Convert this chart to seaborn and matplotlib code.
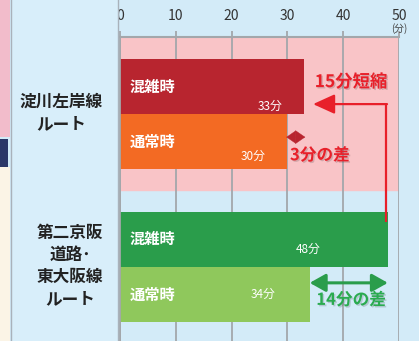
import numpy as np
import pandas as pd
import matplotlib
matplotlib.use("Agg")
import matplotlib.pyplot as plt
import matplotlib.patheffects as pe
import seaborn as sns
from matplotlib.patches import Rectangle

# ---- data ----
routes = ["淀川左岸線\nルート", "第二京阪\n道路･\n東大阪線\nルート"]
conditions = ["混雑時", "通常時"]
minutes_route1 = [33, 30]
minutes_route2 = [48, 34]
x_ticks = [0, 10, 20, 30, 40, 50]
unit_label = "(分)"
note_short = "15分短縮"
note_diff1 = "3分の差"
note_diff2 = "14分の差"

# ---- layout ----
W, H = 419, 341
group_top = [0.9, 3.68]          # y position of first bar of each group (bar units)
bar_colors = ["#b8252f", "#f36a23", "#2a9d4b", "#8fc85c"]
val_dx = [6.1, 6.2, 14.3, 8.4]
val_dy = [0.36, 0.27, 0.18, 0.0]

sns.set_theme(style="white")
plt.rcParams["font.family"] = ["Noto Sans CJK JP", "DejaVu Sans"]

fig = plt.figure(figsize=(W / 100, H / 100), dpi=100)
fig.patch.set_facecolor("#d3ebf8")

# left decorative strip and label panel
fig.patches.append(Rectangle((0, 1 - 137 / H), 10 / W, 137 / H, transform=fig.transFigure,
                             facecolor="#f2bccb", edgecolor="none", zorder=0))
fig.patches.append(Rectangle((0, 1 - 167 / H), 8 / W, 28 / H, transform=fig.transFigure,
                             facecolor="#2b3768", edgecolor="none", zorder=0))
fig.patches.append(Rectangle((0, 0), 10 / W, 1 - 167 / H, transform=fig.transFigure,
                             facecolor="#fbf4e6", edgecolor="none", zorder=0))
fig.patches.append(Rectangle((11 / W, -0.01), 107 / W, 1.02, transform=fig.transFigure,
                             facecolor="#d8eefa", edgecolor="#a9b2bb", lw=1.0, zorder=0))

ax = fig.add_axes([120 / W, 0, 279 / W, 304 / H])
ax.set_facecolor("none")

rows = []
for g, vals in enumerate([minutes_route1, minutes_route2]):
    for i, v in enumerate(vals):
        rows.append({"route": routes[g], "cond": conditions[i], "min": v,
                     "pos": group_top[g] + i, "key": f"{g}-{i}"})
df = pd.DataFrame(rows)

bottom_lim = 304 / 55
pink_bottom = (190 - 37) / 55
ax.axhspan(0, pink_bottom, color="#f9c4c7", zorder=0)

for xv in x_ticks:
    ax.axvline(xv, color="#a3a7ab", lw=1.3, zorder=1)

sns.barplot(data=df, x="min", y="pos", hue="key", palette=bar_colors, orient="y",
            native_scale=True, width=1.0, dodge=False, legend=False, ax=ax,
            saturation=1, edgecolor="none", linewidth=0, zorder=2)

ax.set_xlim(0, 50)
ax.set_ylim(bottom_lim, 0)

# axis styling
ax.xaxis.set_ticks_position("top")
ax.xaxis.set_label_position("top")
ax.set_xticks(x_ticks)
ax.set_xticklabels([str(t) for t in x_ticks], fontsize=10, color="#333333")
ax.tick_params(axis="x", length=4, width=1.3, color="#a3a7ab", pad=6)
ax.set_yticks([pink_bottom])
ax.set_yticklabels([""])
ax.tick_params(axis="y", length=4, width=1.0, color="#a3a7ab")
ax.set_xlabel("")
ax.set_ylabel("")
for s in ["right", "bottom"]:
    ax.spines[s].set_visible(False)
ax.spines["top"].set_color("#a3a7ab")
ax.spines["top"].set_linewidth(1.5)
ax.spines["left"].set_color("#a3a7ab")
ax.spines["left"].set_linewidth(1.3)

ax.text(50, -0.15, unit_label, ha="center", va="center", fontsize=7, color="#444444",
        clip_on=False)

# bar labels
k = 0
for g, vals in enumerate([minutes_route1, minutes_route2]):
    for i, v in enumerate(vals):
        y = group_top[g] + i
        ax.text(1.8, y, conditions[i], ha="left", va="center", fontsize=11,
                fontweight="bold", color="white", zorder=5)
        ax.text(v - val_dx[k], y + val_dy[k], f"{v}分", ha="center", va="center",
                fontsize=8.5, color="white", zorder=5)
        k += 1

# route labels
fig.text(61 / W, 1 - 113 / H, routes[0], ha="center", va="center", fontsize=12,
         fontweight="bold", color="#222222", linespacing=1.3)
fig.text(70 / W, 1 - 266 / H, routes[1], ha="center", va="center", fontsize=12,
         fontweight="bold", color="#222222", linespacing=1.3)

red = "#e8202a"
green_txt = "#2aab50"
shadow = [pe.withSimplePatchShadow(offset=(1, -1), shadow_rgbFace="#000000", alpha=0.15)]

# red L-shaped arrow from congested route2 to congested route1
ax_x = 47.7
ay = 1.22
ax.plot([ax_x, ax_x], [3.36, ay], color=red, lw=1.6, zorder=6, solid_capstyle="butt")
ax.annotate("", xy=(minutes_route1[0] + 1.6, ay), xytext=(ax_x + 0.15, ay),
            arrowprops=dict(arrowstyle="-|>,head_length=1.1,head_width=0.5", color=red,
                            lw=1.6, shrinkA=0, shrinkB=0), zorder=6)
ax.text(41.4, 0.82, note_short, ha="center", va="center", fontsize=12.5,
        fontweight="bold", color=red, zorder=6, path_effects=shadow)

# small double arrow 30 -> 33
ax.annotate("", xy=(minutes_route1[0] + 0.2, 1.82), xytext=(minutes_route1[1] - 0.2, 1.82),
            arrowprops=dict(arrowstyle="<|-|>,head_length=0.55,head_width=0.38", color="#b8252f",
                            lw=0.3, shrinkA=0, shrinkB=0), zorder=6)
ax.text(35.8, 2.15, note_diff1, ha="center", va="center", fontsize=12,
        fontweight="bold", color=red, zorder=6, path_effects=shadow)

# green double arrow 34 -> 48
ax.annotate("", xy=(minutes_route2[0], 4.47), xytext=(minutes_route2[1], 4.47),
            arrowprops=dict(arrowstyle="<|-|>,head_length=0.8,head_width=0.45", color="#2a9d4b",
                            lw=2.2, shrinkA=0, shrinkB=0), zorder=6)
ax.text(41.4, 4.78, note_diff2, ha="center", va="center", fontsize=12,
        fontweight="bold", color=green_txt, zorder=6, path_effects=shadow)

fig.savefig("out.png", dpi=100, facecolor=fig.get_facecolor())
